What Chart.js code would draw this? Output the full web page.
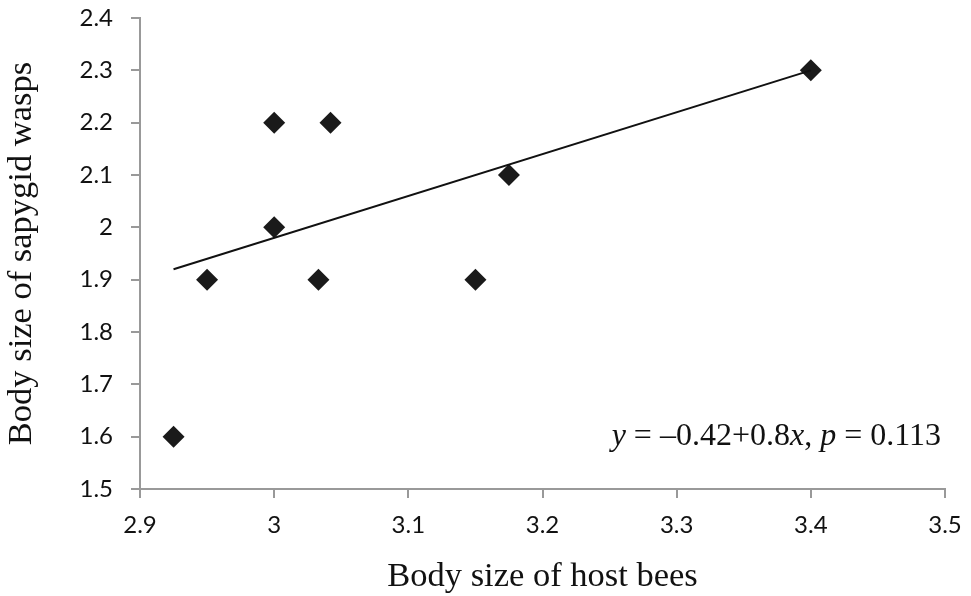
<!DOCTYPE html>
<html>
<head>
<meta charset="utf-8">
<script src="https://cdn.jsdelivr.net/npm/chart.js@4.4.1/dist/chart.umd.min.js"></script>
<style>
  html, body { margin: 0; padding: 0; background: #fff; }
  #wrap { width: 971px; height: 596px; }
</style>
</head>
<body>
<div id="wrap"><canvas id="scatterChart"></canvas></div>
<script>
// host bee size vs sapygid wasp size
const hostSize = [2.925, 2.95, 3.0, 3.0, 3.033, 3.042, 3.15, 3.175, 3.4];
const waspSize = [1.6, 1.9, 2.2, 2.0, 1.9, 2.2, 1.9, 2.1, 2.3];
const trendX = [2.925, 3.4];
const trendY = [1.92, 2.30];
const xTicks = [2.9, 3.0, 3.1, 3.2, 3.3, 3.4, 3.5];
const yTicks = [1.5, 1.6, 1.7, 1.8, 1.9, 2.0, 2.1, 2.2, 2.3, 2.4];
const noteParts = [
    ["y", true], [" = \u20130.42+0.8", false], ["x", true], [", ", false],
    ["p", true], [" = 0.113", false]
];

const axisGrey = "#999999";
const tickFont = { family: "Lato, 'Open Sans', sans-serif", size: 24 };
const titleFont = { family: "'Liberation Serif', 'Times New Roman', serif", size: 34.5 };
const noteSize = 32;

const notePlugin = {
    id: "note",
    afterDraw(chart) {
        const c = chart.ctx;
        const area = chart.chartArea;
        c.save();
        c.fillStyle = "#111";
        c.textBaseline = "alphabetic";
        let total = 0;
        noteParts.forEach(([t, it]) => {
            c.font = (it ? "italic " : "") + noteSize + "px 'Liberation Serif', serif";
            total += c.measureText(t).width;
        });
        let x = area.right - 4 - total;
        const y = area.bottom - 44;
        noteParts.forEach(([t, it]) => {
            c.font = (it ? "italic " : "") + noteSize + "px 'Liberation Serif', serif";
            c.fillText(t, x, y);
            x += c.measureText(t).width;
        });
        c.restore();
    }
};

const ctx = document.getElementById("scatterChart").getContext("2d");
const chart = new Chart(ctx, {
    type: "scatter",
    data: {
        datasets: [{
            label: "Trend",
            type: "line",
            data: trendX.map((x, i) => ({ x: x, y: trendY[i] })),
            borderColor: "#111",
            borderWidth: 2,
            pointRadius: 0,
            fill: false,
        }, {
            label: "Samples",
            data: hostSize.map((x, i) => ({ x: x, y: waspSize[i] })),
            pointStyle: "rectRot",
            pointRadius: 11,
            pointHoverRadius: 11,
            backgroundColor: "#1a1a1a",
            borderColor: "#1a1a1a",
            borderWidth: 0,
        }],
    },
    options: {
        responsive: true,
        maintainAspectRatio: false,
        animation: false,
        layout: { padding: { top: 18, right: 26, left: 0, bottom: 0 } },
        plugins: {
            legend: { display: false },
            tooltip: { enabled: false },
        },
        scales: {
            x: {
                type: "linear",
                min: 2.9,
                max: 3.5,
                afterBuildTicks: (s) => { s.ticks = xTicks.map(v => ({ value: v })); },
                afterFit: (s) => { s.height = 107; s.paddingLeft = 0; s.paddingRight = 0; },
                grid: { drawOnChartArea: false, tickLength: 9, color: axisGrey, lineWidth: 2 },
                border: { color: axisGrey, width: 2 },
                ticks: {
                    color: "#111",
                    font: tickFont,
                    padding: 13,
                    maxRotation: 0,
                    callback: (v) => String(Number(v.toFixed(1))),
                },
                title: {
                    display: true,
                    text: "Body size of host bees",
                    color: "#111",
                    font: titleFont,
                    padding: { top: 10, bottom: -2 },
                },
            },
            y: {
                type: "linear",
                min: 1.5,
                max: 2.4,
                afterBuildTicks: (s) => { s.ticks = yTicks.map(v => ({ value: v })); },
                afterFit: (s) => { s.width = 140; s.paddingTop = 0; s.paddingBottom = 0; },
                grid: { drawOnChartArea: false, tickLength: 9, color: axisGrey, lineWidth: 2 },
                border: { color: axisGrey, width: 2 },
                ticks: {
                    color: "#111",
                    font: tickFont,
                    padding: 18,
                    callback: (v) => String(Number(v.toFixed(1))),
                },
                title: {
                    display: true,
                    text: "Body size of sapygid wasps",
                    color: "#111",
                    font: titleFont,
                    padding: { top: 1, bottom: 4 },
                },
            },
        },
    },
    plugins: [notePlugin],
});
</script>
</body>
</html>
